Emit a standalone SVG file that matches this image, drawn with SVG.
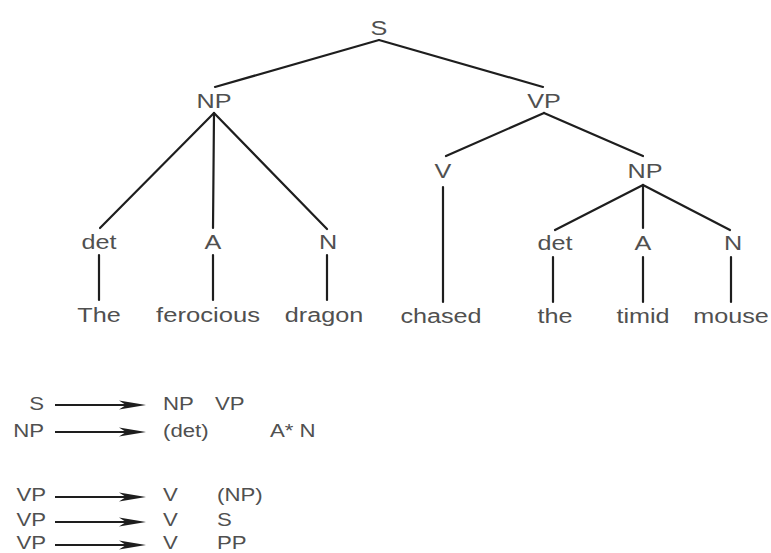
<svg xmlns="http://www.w3.org/2000/svg" xmlns:xlink="http://www.w3.org/1999/xlink" width="771" height="553" viewBox="0 0 771 553">
  <style>
    .t { font-family: "Liberation Sans", Arial, sans-serif; font-size: 21px; fill: #505050; text-anchor: middle; }
    .r { font-family: "Liberation Sans", Arial, sans-serif; font-size: 18.5px; fill: #505050; }
    .re { text-anchor: end; }
    .edge { stroke: #1e1e1e; stroke-width: 2.2; fill: none; stroke-linecap: round; }
    .arr { stroke: #1e1e1e; stroke-width: 2; fill: none; }
  </style>
  <defs>
    <!-- long barbed arrowhead used by the rewrite rules -->
    <path id="head" d="M0,0 L-27,-4.5 L-20,0 L-27,4.5 Z" fill="#1e1e1e"/>
  </defs>
  <rect width="771" height="553" fill="#fff"/>

  <!-- tree edges -->
  <g id="connectors">
    <path class="edge" d="M379,40 L215,87"/>
    <path class="edge" d="M379,40 L543,87"/>
    <path class="edge" d="M214,113 L100,228"/>
    <path class="edge" d="M214,113 L213,228"/>
    <path class="edge" d="M214,113 L327,229"/>
    <path class="edge" d="M99,255 L99,300"/>
    <path class="edge" d="M213,255 L213,300"/>
    <path class="edge" d="M327,255 L327,300"/>
    <path class="edge" d="M544,113 L446,156"/>
    <path class="edge" d="M544,113 L643,156"/>
    <path class="edge" d="M443,187 L443,302"/>
    <path class="edge" d="M643,185 L555,230"/>
    <path class="edge" d="M643,185 L643,228"/>
    <path class="edge" d="M643,185 L730,230"/>
    <path class="edge" d="M553,257 L553,302"/>
    <path class="edge" d="M643,257 L643,302"/>
    <path class="edge" d="M731,257 L731,302"/>
  </g>

  <!-- tree nodes -->
  <g id="n-S"><text class="t" transform="translate(379,35) scale(1.2,1)">S</text></g>
  <g id="n-NP1"><text class="t" transform="translate(214,108) scale(1.2,1)">NP</text></g>
  <g id="n-VP"><text class="t" transform="translate(544,108) scale(1.2,1)">VP</text></g>
  <g id="n-det1"><text class="t" transform="translate(99,249) scale(1.2,1)">det</text></g>
  <g id="n-A1"><text class="t" transform="translate(213,249) scale(1.2,1)">A</text></g>
  <g id="n-N1"><text class="t" transform="translate(328,249) scale(1.2,1)">N</text></g>
  <g id="n-V"><text class="t" transform="translate(443,178) scale(1.2,1)">V</text></g>
  <g id="n-NP2"><text class="t" transform="translate(645,178) scale(1.2,1)">NP</text></g>
  <g id="n-det2"><text class="t" transform="translate(555,250) scale(1.2,1)">det</text></g>
  <g id="n-A2"><text class="t" transform="translate(643,250) scale(1.2,1)">A</text></g>
  <g id="n-N2"><text class="t" transform="translate(733,250) scale(1.2,1)">N</text></g>
  <g id="w-The"><text class="t" transform="translate(99,322) scale(1.2,1)">The</text></g>
  <g id="w-ferocious"><text class="t" transform="translate(208,322) scale(1.22,1)">ferocious</text></g>
  <g id="w-dragon"><text class="t" transform="translate(324,322) scale(1.2,1)">dragon</text></g>
  <g id="w-chased"><text class="t" transform="translate(441,323) scale(1.2,1)">chased</text></g>
  <g id="w-the"><text class="t" transform="translate(555,323) scale(1.2,1)">the</text></g>
  <g id="w-timid"><text class="t" transform="translate(643,323) scale(1.2,1)">timid</text></g>
  <g id="w-mouse"><text class="t" transform="translate(731,323) scale(1.2,1)">mouse</text></g>

  <!-- phrase structure rules -->
  <g id="rules">
    <g id="rule1">
      <text class="r re" transform="translate(44,410) scale(1.2,1)">S</text>
      <line class="arr" x1="55" y1="405" x2="140" y2="405"/>
      <use xlink:href="#head" x="146" y="405"/>
      <text class="r" transform="translate(163,410) scale(1.2,1)">NP</text>
      <text class="r" transform="translate(215,410) scale(1.2,1)">VP</text>
    </g>
    <g id="rule2">
      <text class="r re" transform="translate(44,437) scale(1.2,1)">NP</text>
      <line class="arr" x1="55" y1="432" x2="140" y2="432"/>
      <use xlink:href="#head" x="146" y="432"/>
      <text class="r" transform="translate(163,437) scale(1.2,1)">(det)</text>
      <text class="r" transform="translate(270,437) scale(1.2,1)">A* N</text>
    </g>
    <g id="rule3">
      <text class="r re" transform="translate(46,501) scale(1.2,1)">VP</text>
      <line class="arr" x1="55" y1="497" x2="140" y2="497"/>
      <use xlink:href="#head" x="146" y="497"/>
      <text class="r" transform="translate(163,501) scale(1.2,1)">V</text>
      <text class="r" transform="translate(217,501) scale(1.2,1)">(NP)</text>
    </g>
    <g id="rule4">
      <text class="r re" transform="translate(46,526) scale(1.2,1)">VP</text>
      <line class="arr" x1="55" y1="522" x2="140" y2="522"/>
      <use xlink:href="#head" x="146" y="522"/>
      <text class="r" transform="translate(163,526) scale(1.2,1)">V</text>
      <text class="r" transform="translate(217,526) scale(1.2,1)">S</text>
    </g>
    <g id="rule5">
      <text class="r re" transform="translate(46,549) scale(1.2,1)">VP</text>
      <line class="arr" x1="55" y1="545" x2="140" y2="545"/>
      <use xlink:href="#head" x="146" y="545"/>
      <text class="r" transform="translate(163,549) scale(1.2,1)">V</text>
      <text class="r" transform="translate(217,549) scale(1.2,1)">PP</text>
    </g>
  </g>
</svg>
